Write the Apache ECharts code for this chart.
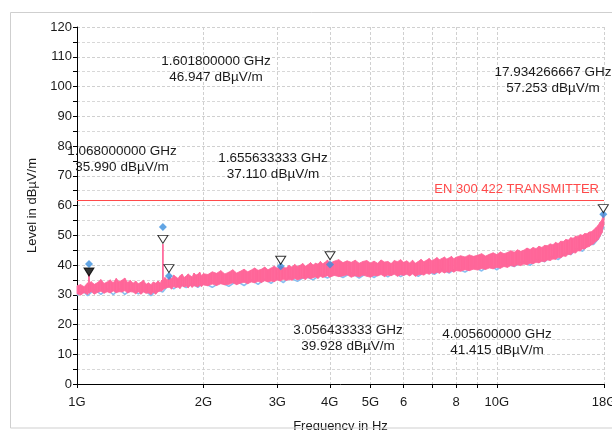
<!DOCTYPE html>
<html>
<head>
<meta charset="utf-8">
<script src="https://cdn.jsdelivr.net/npm/echarts@6/dist/echarts.min.js"></script>
<style>html,body{margin:0;padding:0;background:#fff}#c{width:612px;height:430px}</style>
</head>
<body>
<div id="c"></div>
<script>
// Frequencies in GHz, levels in dBµV/m
// Peak trace as a min/max band per frequency: [GHz, low, high]
const peakBand = [
[1.00,30.3,33.0],[1.02,29.9,33.4],[1.04,30.7,32.7],[1.06,30.1,34.0],[1.066,30.8,33.2],[1.068,31.0,37.0],[1.070,30.5,33.6],
[1.08,31.1,34.4],[1.10,30.2,33.5],[1.12,30.8,34.1],[1.14,31.2,35.1],[1.16,30.5,33.8],[1.18,31.0,34.3],[1.20,30.6,35.0],
[1.22,31.3,34.0],[1.24,30.7,35.5],[1.26,31.0,34.4],[1.28,30.9,34.9],[1.30,31.4,35.6],[1.32,30.6,34.1],[1.34,31.0,34.8],
[1.36,30.9,33.9],[1.38,30.3,34.6],[1.40,31.0,33.7],[1.42,30.2,34.2],[1.44,30.9,34.9],[1.46,30.5,33.5],[1.48,30.6,34.0],
[1.50,30.1,33.4],[1.52,30.8,34.3],[1.54,30.2,33.9],[1.56,31.0,34.6],[1.58,31.3,33.9],[1.59,31.2,34.9],[1.600,31.6,34.3],
[1.6018,31.8,47.0],[1.6036,31.9,34.7],[1.62,32.1,35.8],[1.64,32.4,35.0],[1.66,32.5,36.0],[1.68,31.9,35.4],[1.70,32.8,36.6],
[1.72,32.4,36.0],[1.74,32.6,35.5],[1.76,32.1,36.4],[1.78,33.0,36.9],[1.80,32.6,35.8],[1.82,32.9,36.3],[1.84,32.3,37.0],
[1.86,33.1,36.4],[1.88,32.5,36.0],[1.90,33.0,37.3],[1.92,32.9,36.6],[1.94,32.6,36.9],[1.96,33.2,37.6],[1.98,32.8,36.4],
[2.00,33.3,37.1],[2.05,33.0,36.8],[2.10,33.6,37.7],[2.15,33.1,37.2],[2.20,33.7,38.1],[2.25,33.3,37.0],[2.30,33.5,37.6],
[2.35,34.0,38.4],[2.40,33.4,37.3],[2.45,33.9,37.9],[2.50,34.2,38.6],[2.55,33.7,37.7],[2.60,34.3,38.3],[2.65,34.0,39.0],
[2.70,34.5,38.2],[2.75,34.1,38.6],[2.80,34.7,39.3],[2.85,34.3,38.4],[2.90,34.6,39.0],[2.95,34.4,39.6],[3.00,35.0,38.9],
[3.05,34.6,39.7],[3.10,35.2,39.2],[3.15,34.8,39.0],[3.20,35.1,39.9],[3.25,34.9,39.3],[3.30,35.5,40.2],[3.35,35.0,39.5],
[3.40,35.3,39.9],[3.45,35.6,40.5],[3.50,35.1,39.6],[3.55,35.8,40.1],[3.60,35.4,40.8],[3.65,35.7,40.0],[3.70,36.0,40.6],
[3.75,35.5,40.3],[3.80,36.2,41.2],[3.85,35.8,40.4],[3.90,36.1,40.9],[3.95,36.4,41.7],[4.00,35.9,40.6],
[4.1,36.5,41.3],[4.2,36.1,41.8],[4.3,36.3,40.8],[4.4,36.7,41.4],[4.5,35.9,40.9],[4.6,36.4,41.6],[4.7,36.0,40.6],
[4.8,36.6,41.2],[4.9,36.2,41.5],[5.0,35.9,40.7],[5.1,36.5,41.3],[5.2,36.3,40.6],[5.3,36.8,41.7],[5.4,36.1,41.0],
[5.5,36.6,41.2],[5.6,36.4,40.5],[5.7,36.9,41.5],[5.8,36.2,41.1],[5.9,36.7,41.8],[6.0,36.5,40.9],[6.1,36.9,41.4],
[6.2,36.3,40.7],[6.3,37.0,41.6],[6.4,36.2,40.6],[6.5,36.7,41.2],[6.6,36.9,41.9],[6.7,36.6,41.1],[6.8,37.2,41.6],
[6.9,36.9,42.2],[7.0,37.4,41.4],[7.1,37.1,41.9],[7.2,37.6,42.5],[7.3,37.2,41.8],[7.4,37.8,42.2],[7.5,37.3,42.7],
[7.6,37.7,42.0],[7.7,37.5,42.4],[7.8,38.0,42.9],[7.9,37.6,42.1],[8.0,38.1,42.6],
[8.2,37.9,43.1],[8.4,38.4,42.7],[8.6,38.1,43.4],[8.8,38.6,42.9],[9.0,38.3,43.3],[9.2,38.8,43.8],[9.4,38.5,43.0],
[9.6,39.0,43.6],[9.8,38.7,44.1],[10.0,39.2,43.5],[10.2,38.9,44.4],[10.4,39.5,43.8],[10.6,39.2,44.2],[10.8,39.8,44.8],
[11.0,39.5,44.3],[11.2,40.1,45.1],[11.4,39.8,44.6],[11.6,40.3,45.0],[11.8,40.1,45.7],[12.0,40.6,45.2],[12.2,40.4,45.9],
[12.4,40.9,45.5],[12.6,40.7,46.3],[12.8,41.3,45.9],[13.0,41.1,46.6],[13.2,41.7,46.5],[13.4,41.5,47.1],[13.6,42.0,46.8],
[13.8,41.9,47.6],[14.0,42.5,47.2],[14.2,42.4,48.0],[14.4,43.0,47.9],[14.6,42.9,48.6],[14.8,43.6,48.4],[15.0,43.5,49.2],
[15.2,44.2,49.0],[15.4,44.0,49.7],[15.6,44.8,49.6],[15.8,44.7,50.2],[16.0,45.4,50.0],[16.2,45.4,50.6],[16.4,46.0,50.5],
[16.6,46.2,51.1],[16.8,46.8,51.2],[17.0,47.1,51.8],[17.2,47.9,52.5],[17.4,48.4,53.2],[17.6,49.6,54.3],[17.8,50.8,55.2],
[17.934,53.0,57.3],[18.0,53.5,56.5]
];
// Average trace (light blue, mostly hidden under the peak band)
const avgTrace = [
[1.00,29.8],[1.03,31.5],[1.06,29.7],[1.10,31.8],[1.14,30.1],[1.18,32.0],[1.22,30.0],[1.26,32.0],[1.30,30.1],[1.35,31.9],
[1.40,30.3],[1.45,31.6],[1.50,29.7],[1.55,31.7],[1.60,30.9],[1.65,33.2],[1.70,32.0],[1.76,33.6],[1.82,32.4],[1.88,33.8],
[1.94,32.5],[2.00,34.0],[2.1,32.5],[2.2,34.3],[2.3,32.8],[2.4,34.6],[2.5,33.1],[2.6,35.0],[2.7,33.5],[2.8,35.3],
[2.9,33.8],[3.0,35.6],[3.1,34.1],[3.2,35.9],[3.35,34.5],[3.5,36.2],[3.65,35.0],[3.8,36.7],[3.95,35.6],[4.1,37.2],
[4.3,35.8],[4.5,37.4],[4.7,35.6],[4.9,37.3],[5.1,35.8],[5.3,37.5],[5.5,36.0],[5.7,37.6],[5.9,36.1],[6.2,37.8],
[6.5,36.2],[6.8,38.2],[7.1,36.9],[7.4,38.6],[7.7,37.3],[8.0,39.0],[8.4,37.6],[8.8,39.5],[9.2,38.0],[9.6,40.0],
[10.0,38.4],[10.5,40.6],[11.0,39.5],[11.5,41.3],[12.0,39.9],[12.5,42.0],[13.0,41.1],[13.5,43.0],[14.0,41.8],[14.5,44.0],
[15.0,43.5],[15.5,45.6],[16.0,44.6],[16.5,47.0],[17.0,46.9],[17.5,49.0],[18.0,53.0]
];
const markerFreq = [1.068, 1.6018, 1.655633333, 3.056433333, 4.0056, 17.934266667];
const markerLevel = [35.990, 46.947, 37.110, 39.928, 41.415, 57.253];
const finalLevel = [40.3, 52.8, 36.3, 39.6, 40.2, 57.1];
const limitLevel = 61.9;
const limitName = 'EN 300 422 TRANSMITTER';
const xTickValues = [1,2,3,4,5,6,7,8,9,10,18];
const xLabelValues = [1,2,3,4,5,6,8,10,18];
const xLabelText = {1:'1G',2:'2G',3:'3G',4:'4G',5:'5G',6:'6',8:'8',10:'10G',18:'18G'};
const annotations = [
  {f:'1.601800000 GHz', l:'46.947 dBµV/m', x:216, y:61},
  {f:'17.934266667 GHz', l:'57.253 dBµV/m', x:553, y:72},
  {f:'1.068000000 GHz', l:'35.990 dBµV/m', x:122, y:151},
  {f:'1.655633333 GHz', l:'37.110 dBµV/m', x:273, y:158},
  {f:'3.056433333 GHz', l:'39.928 dBµV/m', x:348, y:330},
  {f:'4.005600000 GHz', l:'41.415 dBµV/m', x:497, y:334}
];

const FONT = 'Liberation Sans, Arial, sans-serif';
const PINK = '#ff6699';
const chart = echarts.init(document.getElementById('c'), null, {renderer:'canvas'});

const graphics = [{
  type:'rect', shape:{x:10.5,y:12.5,width:640,height:415.5}, z:100,
  style:{fill:null, stroke:'#cfcfcf', lineWidth:1}, silent:true
}];
annotations.forEach(a => {
  graphics.push({type:'text', x:a.x, y:a.y, z:50, style:{text:a.f, textAlign:'center', textVerticalAlign:'middle', font:'13.5px '+FONT, fill:'#1a1a1a'}});
  graphics.push({type:'text', x:a.x, y:a.y+16, z:50, style:{text:a.l, textAlign:'center', textVerticalAlign:'middle', font:'13.5px '+FONT, fill:'#1a1a1a'}});
});

chart.setOption({
  animation:false,
  textStyle:{fontFamily:FONT},
  grid:{left:77, right:8, top:27, bottom:46, containLabel:false, outerBoundsMode:'none'},
  xAxis:{
    type:'log', logBase:10, min:1, max:18,
    name:'Frequency in Hz', nameLocation:'middle', nameGap:36,
    nameTextStyle:{color:'#1a1a1a', fontSize:13, fontFamily:FONT},
    axisLine:{lineStyle:{color:'#000', width:1}},
    axisTick:{show:true, inside:false, length:4, customValues:xTickValues, lineStyle:{color:'#000'}},
    axisLabel:{customValues:xLabelValues, color:'#1a1a1a', fontSize:13, margin:12, formatter:v => xLabelText[Math.round(v)] || ''},
    splitLine:{show:true, lineStyle:{color:'#d0d0d0', type:[3,2], width:1}},
    minorTick:{show:false}
  },
  yAxis:{
    type:'value', min:0, max:120, interval:10,
    name:'Level in dBµV/m', nameLocation:'middle', nameGap:31, nameRotate:90,
    nameTextStyle:{color:'#1a1a1a', fontSize:13, fontFamily:FONT},
    axisLine:{show:true, lineStyle:{color:'#000', width:1}},
    axisTick:{show:true, length:4, lineStyle:{color:'#000'}},
    minorTick:{show:true, splitNumber:2, length:4, lineStyle:{color:'#000'}},
    axisLabel:{color:'#1a1a1a', fontSize:13, margin:5},
    splitLine:{show:true, lineStyle:{color:'#d0d0d0', type:[3,2], width:1}},
    minorSplitLine:{show:true, lineStyle:{color:'#d8d8d8', type:[3,2], width:1}}
  },
  series:[
    {type:'line', data:avgTrace, showSymbol:false, z:2, silent:true,
     lineStyle:{color:'#86c0f2', width:1.6}},
    {type:'custom', data:peakBand, z:3, silent:true,
     encode:{x:0, y:[1,2]},
     renderItem:(params, api) => {
       const i = params.dataIndex;
       if (i >= peakBand.length - 1) return null;
       const n = peakBand[i + 1];
       const f = api.value(0), lo = api.value(1), hi = api.value(2);
       const pts = [api.coord([f, lo]), api.coord([f, hi]), api.coord([n[0], n[2]]), api.coord([n[0], n[1]])];
       return {type:'polygon', shape:{points:pts}, style:{fill:PINK, stroke:PINK, lineWidth:0.8}};
     }},
    {type:'line', data:[], z:4, silent:true,
     markLine:{silent:true, symbol:'none', z:4,
       lineStyle:{color:'#ff4a4a', width:1, type:'solid'},
       label:{show:true, position:'insideEndTop', formatter:limitName, color:'#ff4a4a', fontSize:13, fontFamily:FONT, distance:[5,4]},
       data:[{yAxis:limitLevel}]}},
    {type:'scatter', data:markerFreq.map((f,i)=>[f, finalLevel[i]]), symbol:'diamond', symbolSize:8, z:6,
     itemStyle:{color:'#3b8fdd'}},
    {type:'scatter', data:markerFreq.map((f,i)=>({value:[f, markerLevel[i]], itemStyle: i===0 ? {color:'#000'} : {}})),
     symbol:'triangle', symbolRotate:180, symbolSize:[10,8], symbolOffset:[0,-5], z:7,
     itemStyle:{color:'#fff', borderColor:'#000', borderWidth:1}}
  ],
  graphic:graphics
});
</script>
</body>
</html>
